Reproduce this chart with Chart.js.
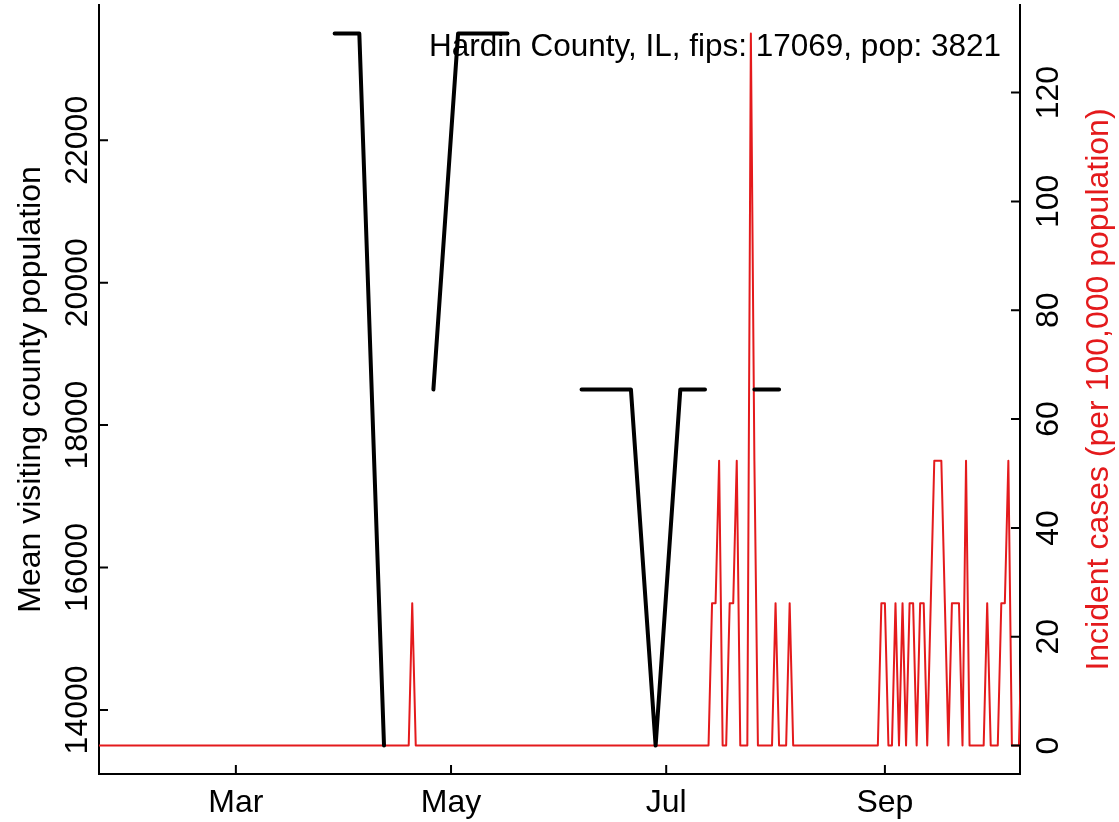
<!DOCTYPE html>
<html>
<head>
<meta charset="utf-8">
<script src="https://cdn.jsdelivr.net/npm/chart.js@4.4.1/dist/chart.umd.min.js"></script>
<style>
  html, body { margin: 0; padding: 0; background: #fff; }
  canvas { display: block; }
</style>
</head>
<body>
<canvas id="chart" width="1119" height="822"></canvas>
<script>
// weekly mean visiting county population (null = no value that week)
const visitDates = ['2020-03-29', '2020-04-05', '2020-04-12', '2020-04-19', '2020-04-26',
  '2020-05-03', '2020-05-10', '2020-05-17', '2020-05-24', '2020-05-31', '2020-06-07',
  '2020-06-14', '2020-06-21', '2020-06-28', '2020-07-05', '2020-07-12', '2020-07-19',
  '2020-07-26', '2020-08-02'];
const visitValues = [23500, 23500, 13500, null, 18500,
  23500, 23500, 23500, null, null, 18500,
  18500, 18500, 13500, 18500, 18500, null,
  18500, 18500];

// daily incident cases per 100,000, one row per week starting 2020-01-22
const caseStart = '2020-01-22';
const caseValues = [
  0, 0, 0, 0, 0, 0, 0,
  0, 0, 0, 0, 0, 0, 0,
  0, 0, 0, 0, 0, 0, 0,
  0, 0, 0, 0, 0, 0, 0,
  0, 0, 0, 0, 0, 0, 0,
  0, 0, 0, 0, 0, 0, 0,
  0, 0, 0, 0, 0, 0, 0,
  0, 0, 0, 0, 0, 0, 0,
  0, 0, 0, 0, 0, 0, 0,
  0, 0, 0, 0, 0, 0, 0,
  0, 0, 0, 0, 0, 0, 0,
  0, 0, 0, 0, 0, 0, 0,
  0, 0, 0, 0, 0, 26.17, 0,
  0, 0, 0, 0, 0, 0, 0,
  0, 0, 0, 0, 0, 0, 0,
  0, 0, 0, 0, 0, 0, 0,
  0, 0, 0, 0, 0, 0, 0,
  0, 0, 0, 0, 0, 0, 0,
  0, 0, 0, 0, 0, 0, 0,
  0, 0, 0, 0, 0, 0, 0,
  0, 0, 0, 0, 0, 0, 0,
  0, 0, 0, 0, 0, 0, 0,
  0, 0, 0, 0, 0, 0, 0,
  0, 0, 0, 0, 0, 0, 0,
  0, 0, 0, 0, 0, 0, 26.17,
  26.17, 52.34, 0, 0, 26.17, 26.17, 52.34,
  0, 0, 0, 130.86, 52.34, 0, 0,
  0, 0, 0, 26.17, 0, 0, 0,
  26.17, 0, 0, 0, 0, 0, 0,
  0, 0, 0, 0, 0, 0, 0,
  0, 0, 0, 0, 0, 0, 0,
  0, 0, 0, 0, 0, 26.17, 26.17,
  0, 0, 26.17, 0, 26.17, 0, 26.17,
  26.17, 0, 26.17, 26.17, 0, 26.17, 52.34,
  52.34, 52.34, 26.17, 0, 26.17, 26.17, 26.17,
  0, 52.34, 0, 0, 0, 0, 0,
  26.17, 0, 0, 0, 26.17, 26.17, 52.34,
  0, 0, 0, 26.17
];

const monthTickDates = ['2020-03-01', '2020-05-01', '2020-07-01', '2020-09-01'];
const monthLabels = ['Mar', 'May', 'Jul', 'Sep'];
const leftTicks = [14000, 16000, 18000, 20000, 22000];
const rightTicks = [0, 20, 40, 60, 80, 100, 120];

const titleText = 'Hardin County, IL, fips: 17069, pop: 3821';
const leftTitle = 'Mean visiting county population';
const rightTitle = 'Incident cases (per 100,000 population)';

const RED = '#e41a1c';
const FONT = '"Liberation Sans", Arial, Helvetica, sans-serif';

// days since 2020-01-01
const dayOf = s => (Date.parse(s + 'T00:00:00Z') - Date.UTC(2020, 0, 1)) / 86400000;

const visitData = visitDates.map((d, i) => ({ x: dayOf(d), y: visitValues[i] }));
const start = dayOf(caseStart);
const caseData = caseValues.map((v, i) => ({ x: start + i, y: v }));
const monthDays = monthTickDates.map(dayOf);

const axisDecor = {
  id: 'axisDecor',
  afterDraw(chart) {
    const { ctx, chartArea: a, scales: { x, yL, yR } } = chart;
    ctx.save();

    // inward tick marks
    ctx.strokeStyle = '#000';
    ctx.lineWidth = 2;
    ctx.beginPath();
    monthDays.forEach(d => {
      const px = x.getPixelForValue(d);
      ctx.moveTo(px, a.bottom);
      ctx.lineTo(px, a.bottom - 9);
    });
    leftTicks.forEach(v => {
      const py = yL.getPixelForValue(v);
      ctx.moveTo(a.left, py);
      ctx.lineTo(a.left + 9, py);
    });
    rightTicks.forEach(v => {
      const py = yR.getPixelForValue(v);
      ctx.moveTo(a.right, py);
      ctx.lineTo(a.right - 9, py);
    });
    ctx.stroke();

    ctx.font = `32px ${FONT}`;
    ctx.textAlign = 'center';
    ctx.textBaseline = 'alphabetic';
    ctx.fillStyle = '#000';
    monthLabels.forEach((m, i) => ctx.fillText(m, x.getPixelForValue(monthDays[i]), 812));

    const upText = (t, px, py, color) => {
      ctx.save();
      ctx.translate(px, py);
      ctx.rotate(-Math.PI / 2);
      ctx.fillStyle = color;
      ctx.fillText(t, 0, 0);
      ctx.restore();
    };
    leftTicks.forEach(v => upText(String(v), a.left - 12, yL.getPixelForValue(v), '#000'));
    rightTicks.forEach(v => upText(String(v), a.right + 38, yR.getPixelForValue(v), '#000'));

    const midY = (a.top + a.bottom) / 2;
    upText(leftTitle, a.left - 59, midY, '#000');
    upText(rightTitle, a.right + 88, midY, RED);

    ctx.font = `31.5px ${FONT}`;
    ctx.textAlign = 'right';
    ctx.fillStyle = '#000';
    ctx.fillText(titleText, 1001, 56);
    ctx.restore();
  }
};

const hiddenAxis = {
  ticks: { display: false },
  grid: { display: false, drawTicks: false },
  border: { display: true, color: '#000', width: 2 }
};

new Chart(document.getElementById('chart'), {
  type: 'line',
  data: {
    datasets: [
      {
        data: visitData,
        yAxisID: 'yL',
        borderColor: '#000',
        borderWidth: 4,
        borderCapStyle: 'round',
        borderJoinStyle: 'round',
        pointRadius: 0,
        spanGaps: false,
        tension: 0
      },
      {
        data: caseData,
        yAxisID: 'yR',
        borderColor: RED,
        borderWidth: 2,
        borderJoinStyle: 'round',
        pointRadius: 0,
        tension: 0
      }
    ]
  },
  options: {
    responsive: false,
    animation: false,
    devicePixelRatio: 1,
    layout: { padding: { left: 99, right: 99, top: 5, bottom: 48 } },
    plugins: {
      legend: { display: false },
      tooltip: { enabled: false }
    },
    scales: {
      x: { type: 'linear', position: 'bottom', min: 21.2, max: 282.3, ...hiddenAxis },
      yL: { type: 'linear', position: 'left', min: 13100, max: 23900, ...hiddenAxis },
      yR: { type: 'linear', position: 'right', min: -5.23, max: 136.09, ...hiddenAxis }
    }
  },
  plugins: [axisDecor]
});
</script>
</body>
</html>
